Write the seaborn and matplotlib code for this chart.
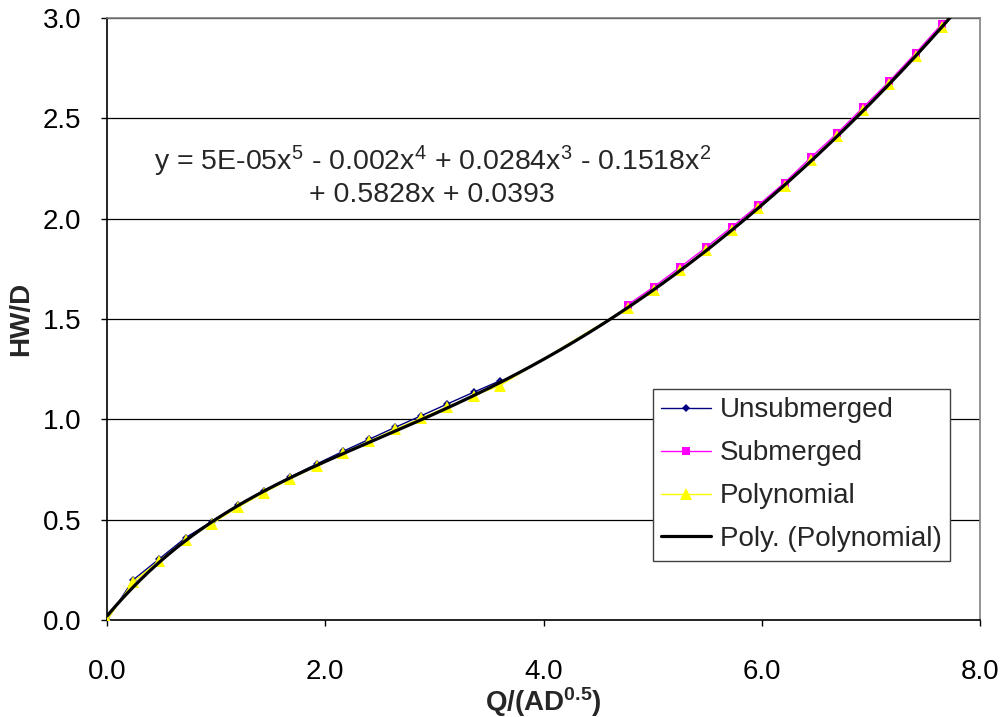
import numpy as np
import pandas as pd
import matplotlib
matplotlib.use("Agg")
import matplotlib.pyplot as plt
import seaborn as sns

# Inlet-control rating data: discharge intensity vs headwater depth ratio
q_unsub = [0.00, 0.24, 0.48, 0.72, 0.96, 1.20, 1.44, 1.68, 1.92, 2.16, 2.40, 2.64, 2.88, 3.12, 3.36, 3.60]
hw_unsub = [0.000, 0.200, 0.305, 0.410, 0.490, 0.572, 0.645, 0.713, 0.777, 0.840, 0.900, 0.960, 1.018, 1.077, 1.135, 1.192]

q_sub = [4.77, 5.01, 5.25, 5.49, 5.73, 5.97, 6.21, 6.45, 6.69, 6.93, 7.17, 7.41, 7.65]
hw_sub = [1.570, 1.660, 1.757, 1.857, 1.960, 2.068, 2.180, 2.305, 2.425, 2.555, 2.685, 2.825, 2.970]

q_poly = q_unsub + q_sub
hw_poly = [0.000, 0.190, 0.295, 0.400, 0.480, 0.562, 0.635, 0.703, 0.767, 0.830, 0.890, 0.950, 1.006, 1.063, 1.118, 1.168,
           1.555, 1.645, 1.742, 1.842, 1.945, 2.053, 2.165, 2.290, 2.410, 2.540, 2.670, 2.810, 2.955]

series_labels = ["Unsubmerged", "Submerged", "Polynomial", "Poly. (Polynomial)"]
equation_lines = [r"y = 5E-05x$^5$ - 0.002x$^4$ + 0.0284x$^3$ - 0.1518x$^2$",
                  r"+ 0.5828x + 0.0393"]
x_ticks = [0.0, 2.0, 4.0, 6.0, 8.0]
y_ticks = [0.0, 0.5, 1.0, 1.5, 2.0, 2.5, 3.0]

sns.set_style("white")
plt.rcParams["font.family"] = ["Liberation Sans", "DejaVu Sans"]
plt.rcParams["mathtext.fontset"] = "custom"
plt.rcParams["mathtext.rm"] = "Liberation Sans"
plt.rcParams["mathtext.it"] = "Liberation Sans"
plt.rcParams["mathtext.bf"] = "Liberation Sans:bold"

fig = plt.figure(figsize=(10.01, 7.17), dpi=100)
ax = fig.add_axes([107 / 1001, 1 - 620 / 717, (980 - 107) / 1001, (620 - 18) / 717])

df_unsub = pd.DataFrame({"q": q_unsub, "hw": hw_unsub})
df_sub = pd.DataFrame({"q": q_sub, "hw": hw_sub})
df_poly = pd.DataFrame({"q": q_poly, "hw": hw_poly})

sns.lineplot(data=df_unsub, x="q", y="hw", ax=ax, color="#000080", lw=1.0, marker="D",
             markersize=4.5, markeredgewidth=0, sort=False, label=series_labels[0], zorder=3)
sns.lineplot(data=df_sub, x="q", y="hw", ax=ax, color="#FF00FF", lw=1.0, marker="s",
             markersize=6, markeredgewidth=0, sort=False, label=series_labels[1], zorder=3)
sns.lineplot(data=df_poly, x="q", y="hw", ax=ax, color="#FFFF00", lw=1.0, marker="^",
             markersize=9, markeredgewidth=0, sort=False, label=series_labels[2], zorder=4)

# Fifth-order trendline fitted to the polynomial series
coef = np.polyfit(q_poly, hw_poly, 5)
q_fit = np.linspace(0.0, 7.76, 300)
df_fit = pd.DataFrame({"q": q_fit, "hw": np.polyval(coef, q_fit)})
sns.lineplot(data=df_fit, x="q", y="hw", ax=ax, color="black", lw=2.3, sort=False,
             label=series_labels[3], zorder=5)

ax.set_xlim(0, 8)
ax.set_ylim(0, 3)
ax.set_xticks(x_ticks)
ax.set_yticks(y_ticks)
ax.set_xticklabels([f"{v:.1f}" for v in x_ticks])
ax.set_yticklabels([f"{v:.1f}" for v in y_ticks])
ax.tick_params(axis="both", labelsize=20, colors="black", direction="out", length=4, width=1)
ax.tick_params(axis="x", pad=24, bottom=True)
ax.tick_params(axis="y", pad=14.5, left=True)

ax.yaxis.grid(True, color="black", lw=0.9)
ax.xaxis.grid(False)
ax.set_axisbelow(True)
for side in ("left", "bottom"):
    ax.spines[side].set_color("black")
    ax.spines[side].set_linewidth(1.2)
for side in ("top", "right"):
    ax.spines[side].set_color("#808080")
    ax.spines[side].set_linewidth(1.2)

ax.set_xlabel(r"$\mathbf{Q/(AD^{0.5})}$", fontsize=20, labelpad=0)
ax.set_ylabel("HW/D", fontsize=20, fontweight="bold", labelpad=6)

# Trendline equation, two centred lines
ax.text(2.98, 2.242, equation_lines[0], fontsize=20.5, ha="center", va="baseline")
ax.text(2.98, 2.083, equation_lines[1], fontsize=20.5, ha="center", va="baseline")

leg = ax.legend(loc="upper left", bbox_to_anchor=(653 / 1001, 1 - 389 / 717),
                bbox_transform=fig.transFigure, fontsize=20, frameon=True, fancybox=False,
                framealpha=1, edgecolor="#404040", handlelength=1.8, handletextpad=0.3,
                labelspacing=0.61, borderpad=0.3, borderaxespad=0)
leg.get_frame().set_linewidth(1.0)

fig.savefig("out.png", dpi=100)
